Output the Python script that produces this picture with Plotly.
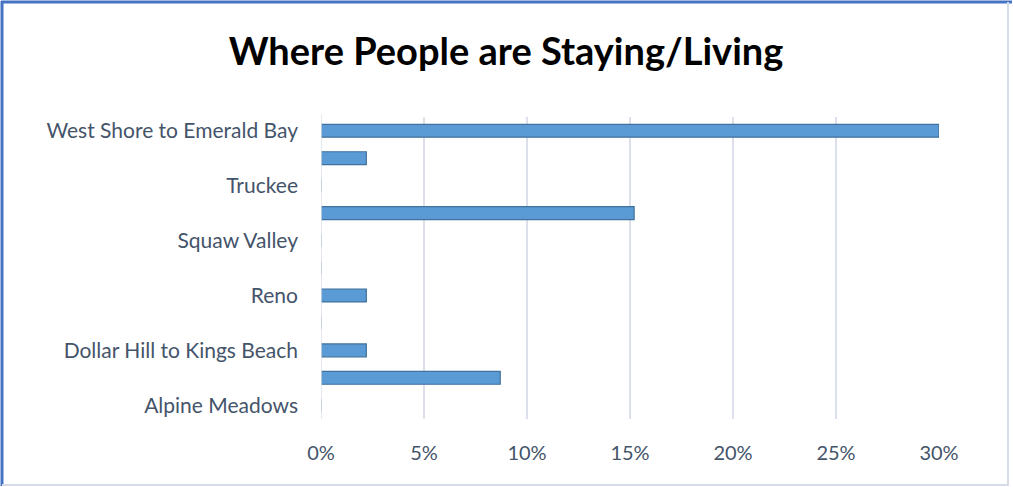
import plotly.graph_objects as go

categories = ["Alpine Meadows", "Carnelian Bay", "Dollar Hill to Kings Beach", "Incline Village",
              "Reno", "South Lake Tahoe", "Squaw Valley", "Tahoe City", "Truckee", "Verdi",
              "West Shore to Emerald Bay"]
values = [0.0, 0.087, 0.022, 0.0, 0.022, 0.0, 0.0, 0.152, 0.0, 0.022, 0.30]
shown_labels = ["Alpine Meadows", "Dollar Hill to Kings Beach", "Reno", "Squaw Valley",
                "Truckee", "West Shore to Emerald Bay"]
x_ticks = [0, 0.05, 0.10, 0.15, 0.20, 0.25, 0.30]

W, H = 1013, 487
L, R, T, B = 321, 74, 117, 68
pw, ph = W - L - R, H - T - B

def px(x):
    return (x - L) / pw

def py(y):
    return 1 - (y - T) / ph

fig = go.Figure()
fig.add_trace(go.Bar(
    y=categories, x=values, orientation="h",
    marker=dict(color="#5B9BD5", line=dict(color="#41719C", width=1.2)),
    width=0.47,
))

fig.update_layout(
    width=W, height=H,
    margin=dict(l=L, r=R, t=T, b=B),
    paper_bgcolor="white", plot_bgcolor="white",
    showlegend=False,
    title=dict(text="<b>Where People are Staying/Living</b>", x=506 / W, xanchor="center",
               xref="container", y=1 - 52 / H, yanchor="middle",
               font=dict(family="Lato, Open Sans, sans-serif", size=38, color="#000000")),
    xaxis=dict(range=[0, 0.3], tickvals=x_ticks, tickformat=".0%",
               showgrid=True, gridcolor="#DCE0EA", gridwidth=1.5, zeroline=False,
               showline=False, ticks="", ticklabelstandoff=20,
               tickfont=dict(family="Lato, sans-serif", size=20, color="#44546A")),
    yaxis=dict(type="category", categoryorder="array", categoryarray=categories,
               tickvals=shown_labels, ticktext=shown_labels,
               showgrid=False, zeroline=False, showline=False, ticks="",
               ticklabelstandoff=22,
               tickfont=dict(family="Lato, sans-serif", size=21, color="#44546A")),
    shapes=[
        dict(type="line", xref="paper", yref="paper", x0=px(1), x1=px(1012), y0=py(2), y1=py(2),
             line=dict(color="#4472C4", width=3)),
        dict(type="line", xref="paper", yref="paper", x0=px(2), x1=px(2), y0=py(1), y1=py(486),
             line=dict(color="#4472C4", width=3)),
        dict(type="line", xref="paper", yref="paper", x0=px(1008), x1=px(1008), y0=py(2), y1=py(486),
             line=dict(color="#D6DCE5", width=2)),
        dict(type="line", xref="paper", yref="paper", x0=px(2), x1=px(1008), y0=py(485), y1=py(485),
             line=dict(color="#D6DCE5", width=2)),
        dict(type="line", xref="x", yref="paper", x0=0, x1=0, y0=0, y1=1.01,
             line=dict(color="#DCE0EA", width=1.5)),
    ],
)

fig.write_html("out.html", config={"displayModeBar": False},
               post_script="document.body.style.margin='0';")
